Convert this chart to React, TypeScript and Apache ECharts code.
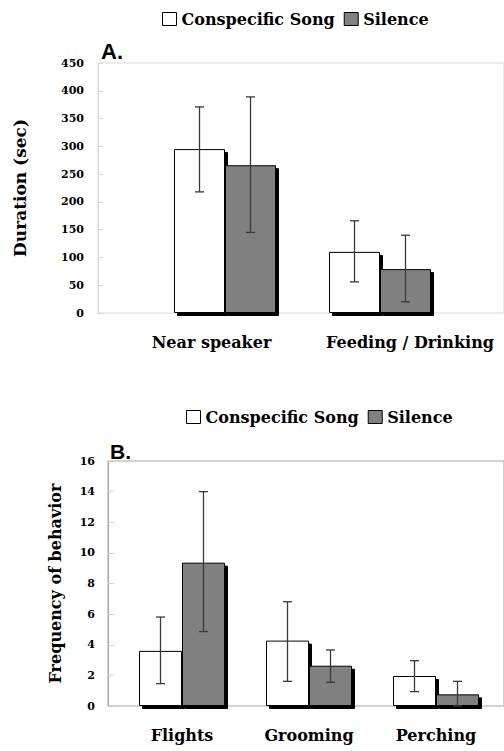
import React, { useEffect, useRef } from "react";
import * as echarts from "echarts";

const aCategories = ["Near speaker", "Feeding / Drinking"];
const aSong = [295, 110];
const aSongLow = [218, 56];
const aSongHigh = [371, 166];
const aSilence = [266, 79];
const aSilenceLow = [145, 20];
const aSilenceHigh = [389, 140];

const bCategories = ["Flights", "Grooming", "Perching"];
const bSong = [3.6, 4.27, 1.96];
const bSongLow = [1.46, 1.61, 0.94];
const bSongHigh = [5.81, 6.81, 2.96];
const bSilence = [9.36, 2.63, 0.76];
const bSilenceLow = [4.86, 1.55, 0];
const bSilenceHigh = [14.0, 3.66, 1.61];

const legendNames = ["Conspecific Song", "Silence"];

const SERIF = '"DejaVu Serif", serif';
const SANS = '"Liberation Sans", Arial, sans-serif';

const A_BAR = 51;
const B_BAR = 43;

function errSeries(name: string, xi: number, low: number[], high: number[], offset: number) {
  return {
    type: "custom",
    name,
    xAxisIndex: xi,
    yAxisIndex: xi,
    z: 10,
    encode: { x: 0, y: [1, 2] },
    data: low.map((l, i) => [i, l, high[i]]),
    renderItem: (params: any, api: any) => {
      const i = api.value(0);
      const lo = api.coord([i, api.value(1)]);
      const hi = api.coord([i, api.value(2)]);
      const x = lo[0] + offset;
      const cap = 4.5;
      const style = { stroke: "#3a3a3a", lineWidth: 1.3 };
      return {
        type: "group",
        children: [
          { type: "line", shape: { x1: x, y1: lo[1], x2: x, y2: hi[1] }, style },
          { type: "line", shape: { x1: x - cap, y1: lo[1], x2: x + cap, y2: lo[1] }, style },
          { type: "line", shape: { x1: x - cap, y1: hi[1], x2: x + cap, y2: hi[1] }, style },
        ],
      };
    },
  };
}

function barSeries(name: string, xi: number, data: number[], color: string, width: number) {
  return {
    type: "bar",
    name,
    xAxisIndex: xi,
    yAxisIndex: xi,
    data,
    barWidth: width,
    barGap: "0%",
    itemStyle: {
      color,
      borderColor: "#000",
      borderWidth: 1,
      shadowColor: "#000",
      shadowBlur: 0,
      shadowOffsetX: 3,
      shadowOffsetY: 3,
    },
  };
}

const labelStyle = { fontFamily: SERIF, fontWeight: "bold" as const, color: "#000" };

export default function App() {
  const ref = useRef<HTMLDivElement>(null);
  useEffect(() => {
    document.body.style.margin = "0";
    const chart = echarts.init(ref.current!, null, { renderer: "svg" });
    const legendCommon = {
      data: legendNames,
      orient: "horizontal",
      icon: "rect",
      itemWidth: 14,
      itemHeight: 13,
      itemGap: 9,
      padding: 0,
      selectedMode: false,
      itemStyle: { borderColor: "#000", borderWidth: 1, shadowBlur: 0, shadowOffsetX: 0, shadowOffsetY: 0, shadowColor: "transparent" },
      textStyle: { ...labelStyle, fontSize: 16 },
    };
    chart.setOption({
      animation: false,
      backgroundColor: "#fff",
      title: [
        { text: "A.", left: 101, top: 40, padding: 0, textStyle: { fontFamily: SANS, fontWeight: "bold", fontSize: 22, color: "#000" } },
        { text: "B.", left: 110, top: 441, padding: 0, textStyle: { fontFamily: SANS, fontWeight: "bold", fontSize: 21, color: "#000" } },
      ],
      legend: [
        { ...legendCommon, left: 162, top: 11 },
        { ...legendCommon, left: 186, top: 409 },
      ],
      grid: [
        { left: 98, top: 63, right: -2, height: 250, show: true, borderColor: "#d9d9d9", borderWidth: 1 },
        { left: 147.5, top: 63, width: 310, height: 250 },
        { left: 108, top: 461, right: -2, height: 245, show: true, borderColor: "#a6a6a6", borderWidth: 1 },
        { left: 118.5, top: 461, width: 381, height: 245 },
      ],
      xAxis: [
        { gridIndex: 0, type: "value", show: false },
        {
          gridIndex: 1,
          type: "category",
          data: aCategories,
          axisLine: { show: false },
          axisTick: { show: false },
          axisLabel: {
            ...labelStyle,
            fontSize: 16,
            margin: 21,
            interval: 0,
            formatter: (v: string, i: number) => (i === 0 ? `{l|${v}}` : `{r|${v}}`),
            rich: {
              l: { ...labelStyle, fontSize: 16, padding: [0, 27, 0, 0] },
              r: { ...labelStyle, fontSize: 16, padding: [0, 0, 0, 60] },
            },
          },
        },
        { gridIndex: 2, type: "value", show: false },
        {
          gridIndex: 3,
          type: "category",
          data: bCategories,
          axisLine: { show: false },
          axisTick: { show: false },
          axisLabel: { ...labelStyle, fontSize: 16, margin: 21, interval: 0 },
        },
      ],
      yAxis: [
        {
          gridIndex: 0,
          type: "value",
          min: 0,
          max: 450,
          interval: 50,
          name: "Duration (sec)",
          nameLocation: "middle",
          nameGap: 70,
          nameTextStyle: { ...labelStyle, fontSize: 17 },
          axisLine: { show: true, lineStyle: { color: "#d9d9d9" } },
          axisTick: { show: true, inside: true, length: 5, lineStyle: { color: "#d9d9d9" } },
          axisLabel: { ...labelStyle, fontSize: 11, margin: 14 },
          splitLine: { show: false },
        },
        { gridIndex: 1, type: "value", min: 0, max: 450, show: false },
        {
          gridIndex: 2,
          type: "value",
          min: 0,
          max: 16,
          interval: 2,
          name: "Frequency of behavior",
          nameLocation: "middle",
          nameGap: 45,
          nameTextStyle: { ...labelStyle, fontSize: 16 },
          axisLine: { show: true, lineStyle: { color: "#a6a6a6" } },
          axisTick: { show: true, inside: true, length: 6, lineStyle: { color: "#d0d0d0" } },
          axisLabel: { ...labelStyle, fontSize: 11, margin: 13 },
          splitLine: { show: false },
        },
        { gridIndex: 3, type: "value", min: 0, max: 16, show: false },
      ],
      series: [
        barSeries("Conspecific Song", 1, aSong, "#ffffff", A_BAR),
        barSeries("Silence", 1, aSilence, "#808080", A_BAR),
        errSeries("errA1", 1, aSongLow, aSongHigh, -A_BAR / 2),
        errSeries("errA2", 1, aSilenceLow, aSilenceHigh, A_BAR / 2),
        barSeries("Conspecific Song", 3, bSong, "#ffffff", B_BAR),
        barSeries("Silence", 3, bSilence, "#808080", B_BAR),
        errSeries("errB1", 3, bSongLow, bSongHigh, -B_BAR / 2),
        errSeries("errB2", 3, bSilenceLow, bSilenceHigh, B_BAR / 2),
      ],
    });
    return () => chart.dispose();
  }, []);
  return <div ref={ref} style={{ width: 504, height: 751 }} />;
}
